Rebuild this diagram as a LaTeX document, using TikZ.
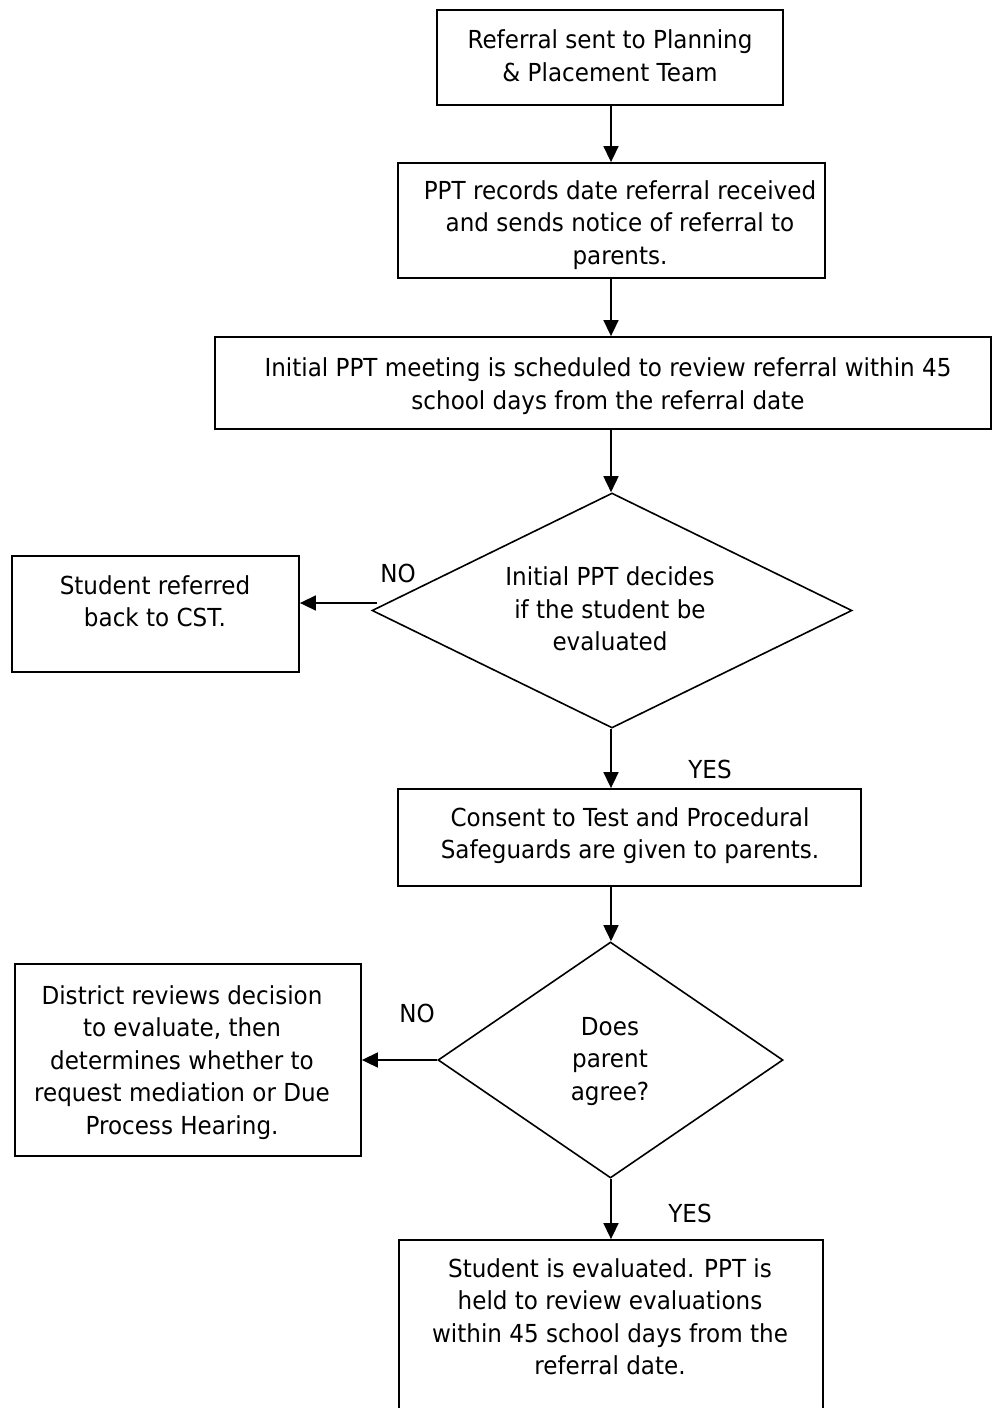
\documentclass[tikz,border=0pt]{standalone}
\usepackage{fontspec}
\setmainfont{DejaVu Sans}[FakeStretch=0.93]
\usetikzlibrary{shapes.geometric,arrows.meta}
\begin{document}
\begin{tikzpicture}[x=1pt,y=-1pt,
  box/.style={draw, line width=1.8pt, rectangle, inner sep=0pt},
  dia/.style={draw, line width=1.6pt, diamond, inner sep=0pt},
  txt/.style={align=center, inner sep=0pt, font=\fontsize{24.8}{32.5}\selectfont},
  lbl/.style={inner sep=0pt, font=\fontsize{24.8}{32.5}\selectfont},
  arr/.style={line width=1.6pt, -{Triangle[length=16pt,width=15pt]}}]
\useasboundingbox (0,0) rectangle (992,1408);
\fill[white] (0,0) rectangle (992,1408);
\coordinate (ax) at (611,0);

% boxes and diamonds
\node[box, minimum width=346pt, minimum height=95pt] (b1) at (610,57.5) {};
\node[box, minimum width=427pt, minimum height=115pt] (b2) at (611.5,220.5) {};
\node[box, minimum width=776pt, minimum height=92pt] (b3) at (603,383) {};
\node[dia, minimum width=480pt, minimum height=235pt] (d1) at (612,610.5) {};
\node[box, minimum width=287pt, minimum height=116pt] (b4) at (155.5,614) {};
\node[box, minimum width=463pt, minimum height=97pt] (b5) at (629.5,837.5) {};
\node[dia, minimum width=345pt, minimum height=236pt] (d2) at (610.5,1060) {};
\node[box, minimum width=346pt, minimum height=192pt] (b6) at (188,1060) {};
\node[box, minimum width=424pt, minimum height=200pt] (b7) at (611,1340) {};

% texts
\node[txt] (t1) at (610,58.5) {\strut Referral sent to Planning\\\strut \& Placement Team};
\node[txt] (t2) at (620,225) {\strut PPT records date referral received\\\strut and sends notice of referral to\\\strut parents.};
\node[txt] (t3) at (608,386.5) {\strut Initial PPT meeting is scheduled to review referral within 45\\\strut school days from the referral date};
\node[txt] (td1) at (610,611.5) {\strut Initial PPT decides\\\strut if the student be\\\strut evaluated};
\node[txt] (t4) at (155,604) {\strut Student referred\\\strut back to CST.};
\node[txt] (t5) at (630,836) {\strut Consent to Test and Procedural\\\strut Safeguards are given to parents.};
\node[txt] (td2) at (610,1061) {\strut Does\\\strut parent\\\strut agree?};
\node[txt] (t6) at (182,1062.5) {\strut District reviews decision\\\strut to evaluate, then\\\strut determines whether to\\\strut request mediation or Due\\\strut Process Hearing.};
\node[txt] (t7) at (610,1319.5) {\strut Student is evaluated. PPT is\\\strut held to review evaluations\\\strut within 45 school days from the\\\strut referral date.};

% labels
\node[lbl] (no1) at (398,573) {NO};
\node[lbl] (yes1) at (710,769) {YES};
\node[lbl] (no2) at (417,1013) {NO};
\node[lbl] (yes2) at (690,1213) {YES};

% connectors
\draw[arr] (b1.south -| ax) -- (b2.north -| ax);
\draw[arr] (b2.south -| ax) -- (b3.north -| ax);
\draw[arr] (b3.south -| ax) -- (d1.north -| ax);
\coordinate (n1s) at (377,603);
\draw[arr] (n1s) -- (n1s -| b4.east);
\draw[arr] (d1.south -| ax) -- (b5.north -| ax);
\draw[arr] (b5.south -| ax) -- (d2.north -| ax);
\draw[arr] (d2.west) -- (b6.east);
\draw[arr] (d2.south -| ax) -- (b7.north -| ax);
\end{tikzpicture}
\end{document}
